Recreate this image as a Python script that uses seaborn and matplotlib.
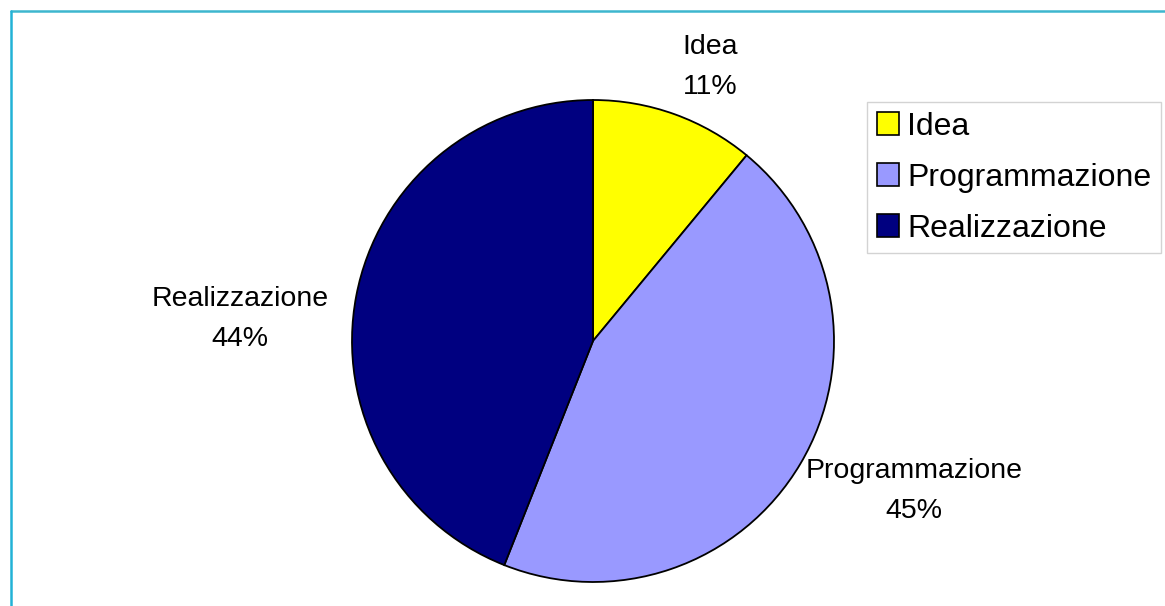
import matplotlib
matplotlib.use("Agg")
import matplotlib.pyplot as plt
import seaborn as sns
import numpy as np
from matplotlib.patches import Patch
from matplotlib.lines import Line2D

categories = ["Idea", "Programmazione", "Realizzazione"]
values = [11, 45, 44]
pct_labels = ["11%", "45%", "44%"]
colors = ["#FFFF00", "#9999FF", "#000080"]

sns.set_theme(style="white")
plt.rcParams['font.family'] = ['Liberation Sans', 'DejaVu Sans']
plt.rcParams['text.color'] = 'black'

W, H = 1165, 606
fig = plt.figure(figsize=(W / 100, H / 100), dpi=100)
fig.patch.set_facecolor("white")

# pie axes: center (593, 341), radius 241 px
cx, cy, r = 593, 341, 241
ax = fig.add_axes([(cx - r) / W, (H - cy - r) / H, 2 * r / W, 2 * r / H])
wedges, _ = ax.pie(values, colors=colors, startangle=90, counterclock=False,
                   radius=1, wedgeprops=dict(edgecolor="black", linewidth=1.3))
ax.set_xlim(-1, 1)
ax.set_ylim(-1, 1)
ax.set_aspect("equal")
ax.axis("off")

# data labels placed outside each wedge
label_pos = [(710, 67), (914, 491), (240, 319)]
for (lx, ly), cat, p in zip(label_pos, categories, pct_labels):
    fig.text(lx / W, 1 - ly / H, f"{cat}\n{p}", ha="center", va="center",
             fontsize=20.5, color="black", linespacing=1.7)

# legend
handles = [Patch(facecolor=c, edgecolor="black", linewidth=1.2) for c in colors]
leg = fig.legend(handles, categories, loc="upper left",
                 bbox_to_anchor=(867 / W, 1 - 102 / H),
                 fontsize=23, frameon=True, fancybox=False,
                 handlelength=0.7, handleheight=0.7, handletextpad=0.25,
                 labelspacing=0.66, borderpad=0.3, borderaxespad=0)
leg.get_frame().set_edgecolor("#C8C8C8")
leg.get_frame().set_linewidth(1.0)
for t in leg.get_texts():
    t.set_color("black")

# cyan frame on top and left edges
fig.add_artist(Line2D([10.5 / W, 1.0], [1 - 10.5 / H, 1 - 10.5 / H],
                      transform=fig.transFigure, color="#3DB6CE", linewidth=1.8))
fig.add_artist(Line2D([10.5 / W, 10.5 / W], [0, 1 - 10.5 / H],
                      transform=fig.transFigure, color="#22B2D6", linewidth=1.8))

fig.savefig("out.png", dpi=100)
